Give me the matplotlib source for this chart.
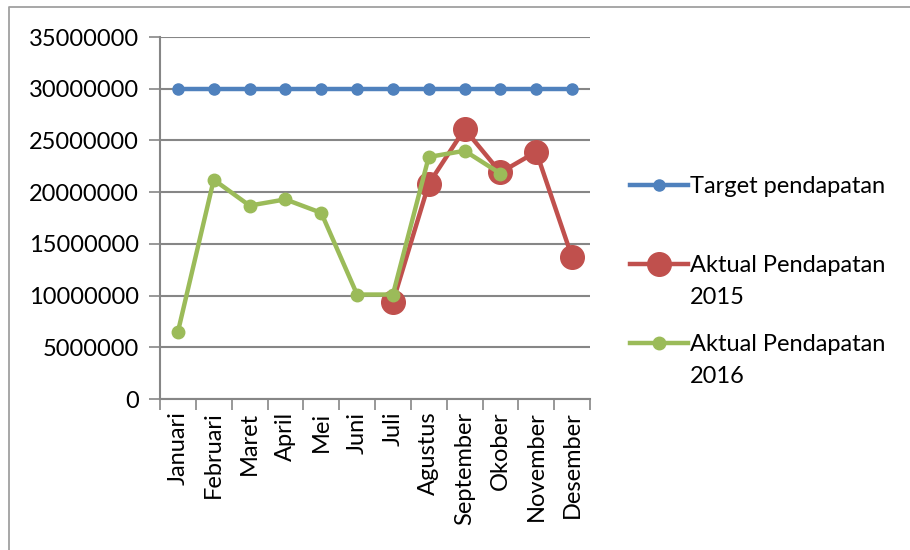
import numpy as np
import matplotlib
matplotlib.use("Agg")
import matplotlib.pyplot as plt
from matplotlib.lines import Line2D

plt.rcParams['font.family'] = ['Lato', 'DejaVu Sans']

# Data
bulan = ['Januari', 'Februari', 'Maret', 'April', 'Mei', 'Juni', 'Juli',
         'Agustus', 'September', 'Okober', 'November', 'Desember']
target = [30000000] * 12
aktual_2015 = [np.nan, np.nan, np.nan, np.nan, np.nan, np.nan,
               9400000, 20800000, 26100000, 21900000, 23900000, 13700000]
aktual_2016 = [6500000, 21200000, 18700000, 19300000, 18000000, 10100000,
               10100000, 23400000, 24000000, 21800000, np.nan, np.nan]
y_ticks = [0, 5000000, 10000000, 15000000, 20000000, 25000000, 30000000, 35000000]

blue = '#4F81BD'
red = '#C0504D'
green = '#9BBB59'
grid_col = '#868686'
fs = 17

fig = plt.figure(figsize=(9.1, 5.5), dpi=100)
ax = fig.add_axes([160 / 910, 1 - 399 / 550, 430 / 910, 362 / 550])

x = np.arange(len(bulan))
ax.plot(x, target, color=blue, lw=3.2, marker='o', ms=8, zorder=3)
ax.plot(x, aktual_2015, color=red, lw=3.2, marker='o', ms=17, zorder=4)
ax.plot(x, aktual_2016, color=green, lw=3.2, marker='o', ms=9, zorder=5)

ax.set_xlim(-0.5, len(bulan) - 0.5)
ax.set_ylim(0, 35000000)
ax.set_yticks(y_ticks)
ax.set_yticklabels([str(v) for v in y_ticks], fontsize=fs)
ax.set_xticks(x)
ax.set_xticklabels(bulan, rotation=90, fontsize=fs)
ax.set_xticks(np.arange(-0.5, len(bulan)), minor=True)
ax.tick_params(axis='x', which='major', length=0, pad=9)
ax.tick_params(axis='x', which='minor', length=8, width=1.2, color=grid_col)
ax.tick_params(axis='y', length=8, width=1.2, color=grid_col, pad=7)

ax.grid(axis='y', color=grid_col, lw=1.5, zorder=0)
ax.set_axisbelow(True)
for s in ['top', 'right']:
    ax.spines[s].set_visible(False)
for s in ['left', 'bottom']:
    ax.spines[s].set_color(grid_col)
    ax.spines[s].set_linewidth(1.5)

# legend drawn by hand so markers line up with the first text line
legend_items = [
    (['Target pendapatan'], blue, 8, 185),
    (['Aktual Pendapatan', '2015'], red, 17, 264),
    (['Aktual Pendapatan', '2016'], green, 9, 343),
]
for lines, col, ms, ypix in legend_items:
    yf = 1 - ypix / 550
    fig.add_artist(Line2D([630 / 910, 688 / 910], [yf, yf], color=col, lw=3.2,
                          transform=fig.transFigure))
    fig.add_artist(Line2D([659 / 910], [yf], color=col, marker='o', ms=ms,
                          transform=fig.transFigure))
    for i, txt in enumerate(lines):
        fig.text(690 / 910, 1 - (ypix + 8 + 32 * i) / 550, txt, fontsize=fs,
                 ha='left', va='baseline', transform=fig.transFigure)

# chart frame (left and top edges visible)
fig.add_artist(Line2D([9 / 910, 9 / 910, 1.0], [0, 1 - 7 / 550, 1 - 7 / 550],
                      color='#A0A0A0', lw=1.3, transform=fig.transFigure))

fig.savefig('out.png', dpi=100)
